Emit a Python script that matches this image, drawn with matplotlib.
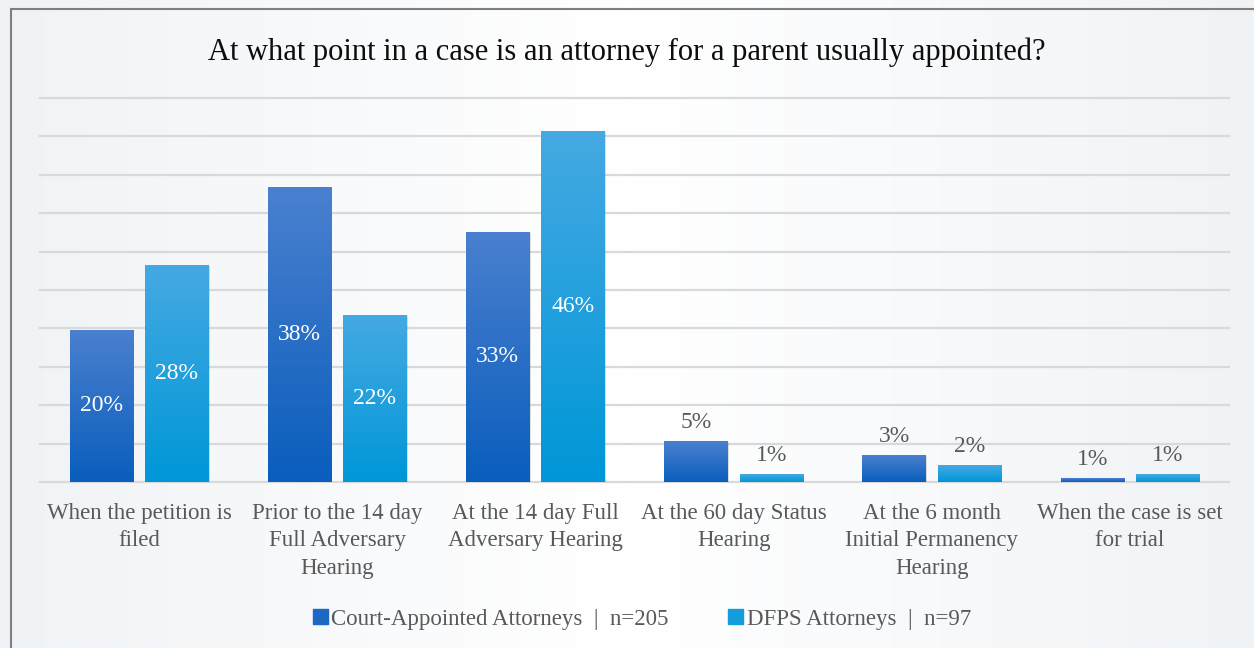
import numpy as np
import matplotlib
matplotlib.use("Agg")
import matplotlib.pyplot as plt
from matplotlib.colors import LinearSegmentedColormap
from matplotlib.patches import Rectangle

plt.rcParams['font.family'] = ['Liberation Serif', 'DejaVu Serif']

categories = ["When the petition is\nfiled",
              "Prior to the 14 day\nFull Adversary\nHearing",
              "At the 14 day Full\nAdversary Hearing",
              "At the 60 day Status\nHearing",
              "At the 6 month\nInitial Permanency\nHearing",
              "When the case is set\nfor trial"]
court = [19.8, 38.4, 32.6, 5.3, 3.5, 0.5]
dfps = [28.3, 21.7, 45.7, 1.0, 2.2, 1.0]
court_labels = ["20%", "38%", "33%", "5%", "3%", "1%"]
dfps_labels = ["28%", "22%", "46%", "1%", "2%", "1%"]
series_names = ["Court-Appointed Attorneys  |  n=205", "DFPS Attorneys  |  n=97"]

W, H = 1254, 648
fig = plt.figure(figsize=(W / 100, H / 100), dpi=100)
fig.patch.set_facecolor("#f1f3f6")

# light background gradient inside the frame
bg = fig.add_axes([0, 0, 1, 1], zorder=-5)
grad = np.linspace(0, 1, 256).reshape(1, -1)
grad = np.minimum(grad * 2, 2 - grad * 2)
bg.imshow(grad, aspect="auto", extent=[0, 1, 0, 1],
          cmap=LinearSegmentedColormap.from_list("bg", ["#f0f3f6", "#ffffff"]))
bg.set_xlim(0, 1)
bg.set_ylim(0, 1)
bg.axis("off")
fig.patches.append(Rectangle((11 / W, -0.05), 1.1, 1 - 9 / H + 0.05,
                             transform=fig.transFigure, fill=False,
                             edgecolor="#7f7f7f", linewidth=1.5, zorder=10))

ax = fig.add_axes([40 / W, 1 - 482 / H, (1229 - 40) / W, (482 - 98) / H])
ax.set_facecolor("none")
x = np.arange(len(categories))
bw = 0.32
off = 0.19

cmaps = [LinearSegmentedColormap.from_list("c", ["#0a5ebd", "#4a80cf"]),
         LinearSegmentedColormap.from_list("d", ["#0097d8", "#45a9e2"])]

for i, (vals, labs) in enumerate([(court, court_labels), (dfps, dfps_labels)]):
    pos = x - off if i == 0 else x + off
    bars = ax.bar(pos, vals, bw, color=cmaps[i](0.5), zorder=3)
    for b, v, lab in zip(bars, vals, labs):
        bx = b.get_x()
        bh = b.get_height()
        # soft shadow
        ax.add_patch(Rectangle((bx + 0.006, 0), bw, bh - 0.15, color="#000000",
                               alpha=0.12, zorder=2, linewidth=0))
        g = np.linspace(0, 1, 100).reshape(-1, 1)
        im = ax.imshow(g, aspect="auto", cmap=cmaps[i], origin="lower",
                       extent=[bx, bx + bw, 0, max(bh, 0.01)], zorder=3.5)
        im.set_clip_path(b)
        if v > 10:
            ax.text(bx + bw / 2, v / 2, lab, ha="center", va="center",
                    color="white", fontsize=17, zorder=5)
        else:
            ax.text(bx + bw / 2, v + 1.1, lab, ha="center", va="bottom",
                    color="#595959", fontsize=17, zorder=5)

ax.set_xlim(-0.5, len(categories) - 0.5)
ax.set_ylim(0, 50)
ax.set_yticks(np.arange(0, 51, 5))
ax.yaxis.grid(True, color="#d9d9d9", linewidth=1.6, zorder=0)
for gl in ax.get_ygridlines():
    gl.set_clip_on(False)
ax.set_axisbelow(True)
ax.tick_params(axis="y", left=False, labelleft=False)
ax.tick_params(axis="x", length=0, pad=15)
ax.set_xticks(x)
ax.set_xticklabels(categories, fontsize=16.5, color="#595959", linespacing=1.4, va="top")
for s in ax.spines.values():
    s.set_visible(False)

fig.text(0.5, 1 - 52 / H, "At what point in a case is an attorney for a parent usually appointed?",
         ha="center", va="center", fontsize=22, color="#0d0d0d")

handles = [Rectangle((0, 0), 1, 1, color=cmaps[0](0.3)),
           Rectangle((0, 0), 1, 1, color=cmaps[1](0.3))]
leg = fig.legend(handles, series_names, loc="center", bbox_to_anchor=(0.512, 1 - 619 / H),
                 ncol=2, frameon=False, fontsize=16.5, handlelength=0.65, handleheight=0.65,
                 handletextpad=0.15, columnspacing=2.6)
for t in leg.get_texts():
    t.set_color("#595959")

fig.savefig("out.png", dpi=100, facecolor=fig.get_facecolor())
